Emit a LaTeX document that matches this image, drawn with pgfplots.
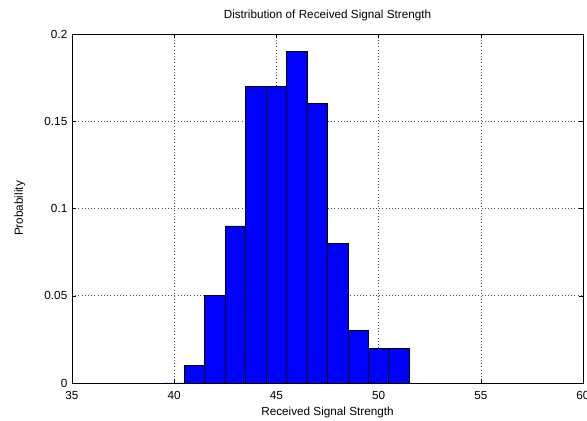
\documentclass[border=0pt]{standalone}
\usepackage{fontspec}
\setmainfont{Liberation Sans}
\usepackage{pgfplots}
\pgfplotsset{compat=1.18}
\begin{document}
\begin{tikzpicture}
\begin{axis}[
  scale only axis,
  width=383.25pt, height=261.75pt,
  xmin=35, xmax=60, ymin=0, ymax=0.2,
  xtick={35,40,...,60},
  ytick={0,0.05,0.1,0.15,0.2},
  tick align=inside,
  tick pos=both,
  major tick length=3pt,
  grid=major,
  major grid style={black!70, dotted, line width=0.4pt},
  axis line style={black, line width=0.6pt},
  tick style={black},
  font=\fontsize{8.8pt}{10pt}\selectfont,
  ticklabel style={font=\fontsize{8.8pt}{10pt}\selectfont},
  xticklabel style={yshift=-3pt},
  /pgf/number format/assume math mode=true,
  yticklabel style={/pgf/number format/fixed, /pgf/number format/precision=2},
  title={Distribution of Received Signal Strength},
  title style={yshift=0pt},
  xlabel={Received Signal Strength},
  ylabel={Probability},
  xlabel style={yshift=1.5pt},
  ylabel style={yshift=7.5pt},
  axis on top=false,
]
\addplot[ybar interval, fill={rgb,1:red,0;green,0;blue,1}, draw=black, line width=0.6pt] coordinates {
(39.5,0) (40.5,0.01) (41.5,0.05) (42.5,0.09) (43.5,0.17) (44.5,0.17) (45.5,0.19) (46.5,0.16) (47.5,0.08) (48.5,0.03) (49.5,0.02) (50.5,0.02) (51.5,0.02)
};
\end{axis}
\pgfresetboundingbox
\path (-54pt,-28.5pt) rectangle (386.25pt,287.25pt);
\end{tikzpicture}
\end{document}
